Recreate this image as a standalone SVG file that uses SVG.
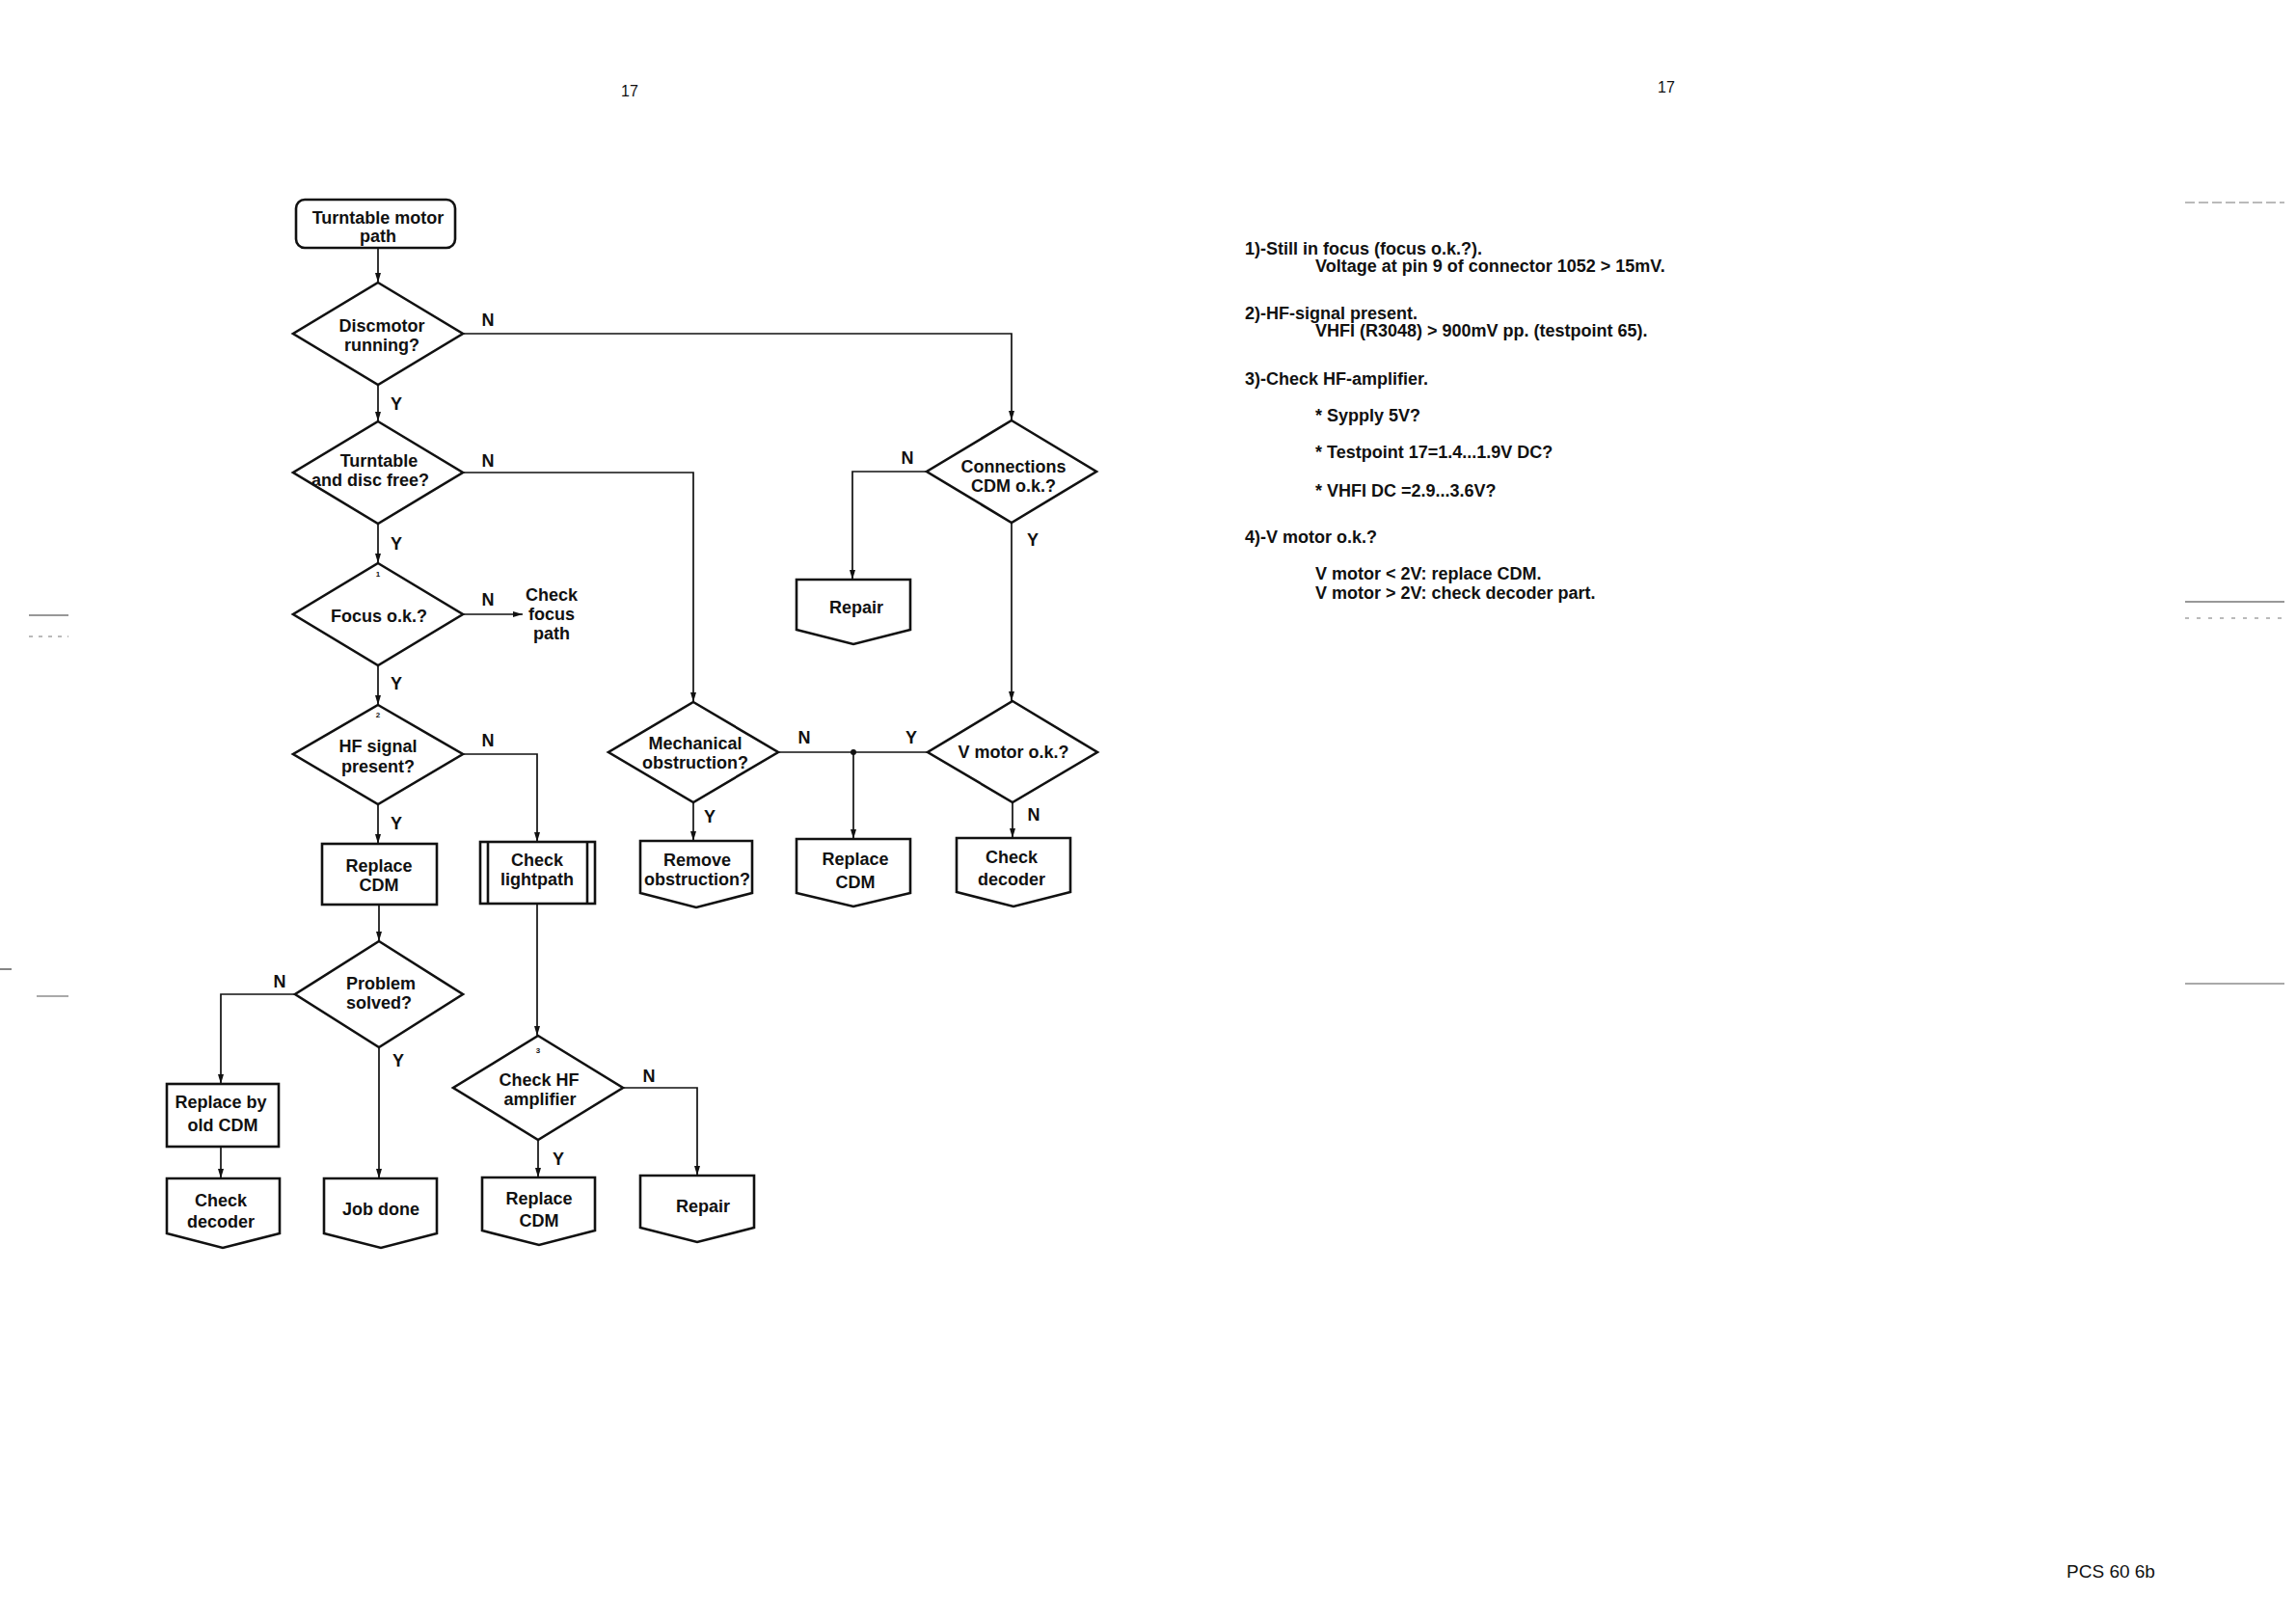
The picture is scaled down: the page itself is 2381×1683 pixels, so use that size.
<svg xmlns="http://www.w3.org/2000/svg" width="2381" height="1683" viewBox="0 0 2381 1683">
<defs>
<marker id="arr" viewBox="0 0 10 6" refX="10" refY="3" markerWidth="10" markerHeight="6" markerUnits="userSpaceOnUse" orient="auto">
<path d="M0,0 L10,3 L0,6 Z" fill="#111"/>
</marker>
<style>
.n{fill:#fff;stroke:#111;stroke-width:2.6;stroke-linejoin:miter}
.c{fill:none;stroke:#111;stroke-width:1.7}
.t{font-family:"Liberation Sans",Arial,sans-serif;font-weight:bold;font-size:18px;fill:#111;text-anchor:middle}
.l{font-family:"Liberation Sans",Arial,sans-serif;font-weight:bold;font-size:18px;fill:#111;text-anchor:middle}
.s{font-family:"Liberation Sans",Arial,sans-serif;font-weight:bold;font-size:8px;fill:#111;text-anchor:middle}
.r{font-family:"Liberation Sans",Arial,sans-serif;font-weight:bold;font-size:18px;fill:#111}
.p{font-family:"Liberation Sans",Arial,sans-serif;font-size:16px;fill:#111;text-anchor:middle}
.m{stroke:#777;stroke-width:1.2;fill:none}
</style>
</defs>
<rect width="2381" height="1683" fill="#fff"/>

<text class="p" x="653" y="100">17</text>
<text class="p" x="1728" y="96">17</text>
<text class="p" x="2189" y="1636" style="font-size:19px">PCS 60 6b</text>

<g id="scan-marks">
<path class="m" d="M2266,210 H2369" stroke-dasharray="10 4"/>
<path class="m" d="M2266,624 H2369" style="stroke:#333"/>
<path class="m" d="M2266,641 H2369" stroke-dasharray="4 8"/>
<path class="m" d="M2266,1020 H2369" style="stroke:#555"/>
<path class="m" d="M30,638 H71" style="stroke:#333"/>
<path class="m" d="M30,660 H71" stroke-dasharray="4 6"/>
<path class="m" d="M0,1005 H12" style="stroke:#333"/>
<path class="m" d="M38,1033 H71" style="stroke:#555"/>
</g>

<g id="connectors">
<path class="c" d="M392,257 V293" marker-end="url(#arr)"/>
<path class="c" d="M480,346 H1049 V436" marker-end="url(#arr)"/>
<path class="c" d="M392,399 V437" marker-end="url(#arr)"/>
<path class="c" d="M480,490 H719 V728" marker-end="url(#arr)"/>
<path class="c" d="M392,543 V584" marker-end="url(#arr)"/>
<path class="c" d="M480,637 H542" marker-end="url(#arr)"/>
<path class="c" d="M392,690 V731" marker-end="url(#arr)"/>
<path class="c" d="M480,782 H557 V873" marker-end="url(#arr)"/>
<path class="c" d="M392,834 V875" marker-end="url(#arr)"/>
<path class="c" d="M393,938 V976" marker-end="url(#arr)"/>
<path class="c" d="M306,1031 H229 V1124" marker-end="url(#arr)"/>
<path class="c" d="M393,1086 V1222" marker-end="url(#arr)"/>
<path class="c" d="M229,1189 V1222" marker-end="url(#arr)"/>
<path class="c" d="M557,937 V1074" marker-end="url(#arr)"/>
<path class="c" d="M646,1128 H723 V1219" marker-end="url(#arr)"/>
<path class="c" d="M558,1182 V1221" marker-end="url(#arr)"/>
<path class="c" d="M961,489 H884 V601" marker-end="url(#arr)"/>
<path class="c" d="M1049,542 V727" marker-end="url(#arr)"/>
<path class="c" d="M807,780 H962"/>
<circle cx="885" cy="780" r="3" fill="#111"/>
<path class="c" d="M885,780 V870" marker-end="url(#arr)"/>
<path class="c" d="M719,832 V872" marker-end="url(#arr)"/>
<path class="c" d="M1050,832 V869" marker-end="url(#arr)"/>
</g>

<g id="labels">
<text class="l" x="506" y="338">N</text>
<text class="l" x="411" y="425">Y</text>
<text class="l" x="506" y="484">N</text>
<text class="l" x="411" y="570">Y</text>
<text class="l" x="506" y="628">N</text>
<text class="l" x="411" y="715">Y</text>
<text class="l" x="506" y="774">N</text>
<text class="l" x="411" y="860">Y</text>
<text class="l" x="290" y="1024">N</text>
<text class="l" x="413" y="1106">Y</text>
<text class="l" x="673" y="1122">N</text>
<text class="l" x="579" y="1208">Y</text>
<text class="l" x="941" y="481">N</text>
<text class="l" x="1071" y="566">Y</text>
<text class="l" x="834" y="771">N</text>
<text class="l" x="945" y="771">Y</text>
<text class="l" x="736" y="853">Y</text>
<text class="l" x="1072" y="851">N</text>
</g>

<g id="start">
<rect class="n" x="307" y="207" width="165" height="50" rx="9"/>
<text class="t" x="392" y="232">Turntable motor</text>
<text class="t" x="392" y="251">path</text>
</g>

<g id="discmotor">
<polygon class="n" points="392,293 480,346 392,399 304,346"/>
<text class="t" x="396" y="344">Discmotor</text>
<text class="t" x="396" y="364">running?</text>
</g>

<g id="turntable">
<polygon class="n" points="392,437 480,490 392,543 304,490"/>
<text class="t" x="393" y="484">Turntable</text>
<text class="t" x="384" y="504">and disc free?</text>
</g>

<g id="focus">
<polygon class="n" points="392,584 480,637 392,690 304,637"/>
<text class="s" x="392" y="598">1</text>
<text class="t" x="393" y="645">Focus o.k.?</text>
</g>

<g id="check-focus">
<text class="t" x="572" y="623">Check</text>
<text class="t" x="572" y="643">focus</text>
<text class="t" x="572" y="663">path</text>
</g>

<g id="hf-signal">
<polygon class="n" points="392,731 480,782 392,834 304,782"/>
<text class="s" x="392" y="744">2</text>
<text class="t" x="392" y="780">HF signal</text>
<text class="t" x="392" y="801">present?</text>
</g>

<g id="replace-cdm-1">
<rect class="n" x="334" y="875" width="119" height="63"/>
<text class="t" x="393" y="904">Replace</text>
<text class="t" x="393" y="924">CDM</text>
</g>

<g id="check-lightpath">
<rect class="n" x="498" y="873" width="119" height="64"/>
<path class="n" d="M506,873 V937 M609,873 V937"/>
<text class="t" x="557" y="898">Check</text>
<text class="t" x="557" y="918">lightpath</text>
</g>

<g id="problem-solved">
<polygon class="n" points="393,976 480,1031 393,1086 306,1031"/>
<text class="t" x="395" y="1026">Problem</text>
<text class="t" x="393" y="1046">solved?</text>
</g>

<g id="replace-old-cdm">
<rect class="n" x="173" y="1124" width="116" height="65"/>
<text class="t" x="229" y="1149">Replace by</text>
<text class="t" x="231" y="1173">old CDM</text>
</g>

<g id="check-decoder-1">
<path class="n" d="M173,1222 H290 V1279 L231,1294 L173,1279 Z"/>
<text class="t" x="229" y="1251">Check</text>
<text class="t" x="229" y="1273">decoder</text>
</g>

<g id="job-done">
<path class="n" d="M336,1222 H453 V1279 L395,1294 L336,1279 Z"/>
<text class="t" x="395" y="1260">Job done</text>
</g>

<g id="check-hf-amp">
<polygon class="n" points="558,1074 646,1128 558,1182 470,1128"/>
<text class="s" x="558" y="1092">3</text>
<text class="t" x="559" y="1126">Check HF</text>
<text class="t" x="560" y="1146">amplifier</text>
</g>

<g id="replace-cdm-2">
<path class="n" d="M500,1221 H617 V1276 L559,1291 L500,1276 Z"/>
<text class="t" x="559" y="1249">Replace</text>
<text class="t" x="559" y="1272">CDM</text>
</g>

<g id="repair-2">
<path class="n" d="M664,1219 H782 V1273 L723,1288 L664,1273 Z"/>
<text class="t" x="729" y="1257">Repair</text>
</g>

<g id="connections">
<polygon class="n" points="1049,436 1137,489 1049,542 961,489"/>
<text class="t" x="1051" y="490">Connections</text>
<text class="t" x="1051" y="510">CDM o.k.?</text>
</g>

<g id="repair-1">
<path class="n" d="M826,601 H944 V653 L885,668 L826,653 Z"/>
<text class="t" x="888" y="636">Repair</text>
</g>

<g id="mechanical">
<polygon class="n" points="719,728 807,780 719,832 631,780"/>
<text class="t" x="721" y="777">Mechanical</text>
<text class="t" x="721" y="797">obstruction?</text>
</g>

<g id="v-motor">
<polygon class="n" points="1050,727 1138,780 1050,832 962,780"/>
<text class="t" x="1051" y="786">V motor o.k.?</text>
</g>

<g id="remove-obstruction">
<path class="n" d="M664,872 H780 V926 L722,941 L664,926 Z"/>
<text class="t" x="723" y="898">Remove</text>
<text class="t" x="723" y="918">obstruction?</text>
</g>

<g id="replace-cdm-3">
<path class="n" d="M826,870 H944 V926 L885,940 L826,926 Z"/>
<text class="t" x="887" y="897">Replace</text>
<text class="t" x="887" y="921">CDM</text>
</g>

<g id="check-decoder-2">
<path class="n" d="M992,869 H1110 V925 L1051,940 L992,925 Z"/>
<text class="t" x="1049" y="895">Check</text>
<text class="t" x="1049" y="918">decoder</text>
</g>

<g id="notes">
<text class="r" x="1291" y="264">1)-Still in focus (focus o.k.?).</text>
<text class="r" x="1364" y="282">Voltage at pin 9 of connector 1052 &gt; 15mV.</text>
<text class="r" x="1291" y="331">2)-HF-signal present.</text>
<text class="r" x="1364" y="349">VHFI (R3048) &gt; 900mV pp. (testpoint 65).</text>
<text class="r" x="1291" y="399">3)-Check HF-amplifier.</text>
<text class="r" x="1364" y="437">* Sypply 5V?</text>
<text class="r" x="1364" y="475">* Testpoint 17=1.4...1.9V DC?</text>
<text class="r" x="1364" y="515">* VHFI DC =2.9...3.6V?</text>
<text class="r" x="1291" y="563">4)-V motor o.k.?</text>
<text class="r" x="1364" y="601">V motor &lt; 2V: replace CDM.</text>
<text class="r" x="1364" y="621">V motor &gt; 2V: check decoder part.</text>
</g>
</svg>
